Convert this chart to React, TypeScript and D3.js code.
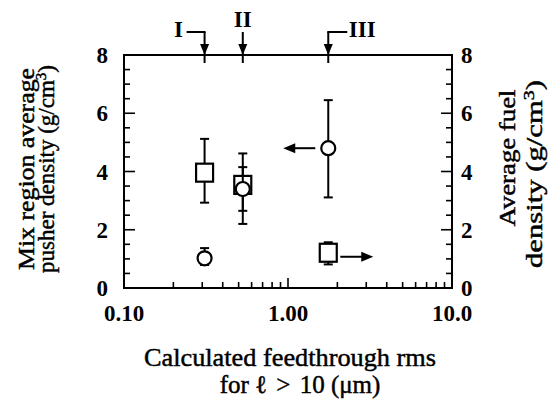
import React from "react";
import * as d3 from "d3";

const feedthroughRms = [0.31, 0.53, 1.76];
const shotLabels = ["I", "II", "III"];
const pusherDensity = [1.02, 3.4, 4.8];
const pusherLow = [0.79, 2.65, 3.11];
const pusherHigh = [1.37, 4.15, 6.45];
const fuelDensity = [3.96, 3.54, 1.21];
const fuelLow = [2.93, 2.2, 0.81];
const fuelHigh = [5.12, 4.62, 1.57];
const yTicks = [0, 2, 4, 6, 8];
const xTickLabels = ["0.10", "1.00", "10.0"];
const xTickValues = [0.1, 1, 10];

const W = 552, H = 401;
const L = 124, R = 452, T = 55, B = 288;
const FONT = "'Liberation Serif', 'Times New Roman', serif";

export default function App() {
  const x = d3.scaleLog().domain([0.1, 10]).range([L, R]);
  const y = d3.scaleLinear().domain([0, 8]).range([B, T]);
  const y2 = d3.scaleLinear().domain([0, 8]).range([B, T]);

  const minorX: number[] = [];
  for (const dec of [0.1, 1]) for (let k = 2; k <= 9; k++) minorX.push(dec * k);
  const yMinor = d3.range(0, 8.01, 0.5).filter((v) => v % 2 !== 0);

  const sw = 2;
  const cap = 4.5;

  const arrowHead = (tx: number, ty: number, dir: "down" | "left" | "right", len = 11, half = 4.5) => {
    let pts: [number, number][];
    if (dir === "down") pts = [[tx, ty], [tx - half, ty - len], [tx + half, ty - len]];
    else if (dir === "left") pts = [[tx, ty], [tx + len, ty - half], [tx + len, ty + half]];
    else pts = [[tx, ty], [tx - len, ty - half], [tx - len, ty + half]];
    return <polygon points={pts.map((p) => p.join(",")).join(" ")} fill="#000" />;
  };

  const i3 = 2;
  const cx3 = x(feedthroughRms[i3]);
  const tickFont = { fontFamily: FONT, fontSize: 23, fontWeight: "bold" as const };
  const titleFont = { fontFamily: FONT, fontSize: 23, stroke: "#000", strokeWidth: 0.45 };

  return (
    <svg width={W} height={H} style={{ position: "absolute", left: 0, top: 0, background: "#fff" }} fontFamily={FONT}>
      <rect x={0} y={0} width={W} height={H} fill="#fff" />
      {/* frame */}
      <rect x={L} y={T} width={R - L} height={B - T} fill="none" stroke="#000" strokeWidth={2} />

      {/* bottom ticks */}
      {xTickValues.map((v) => (
        <line key={"xM" + v} x1={x(v)} x2={x(v)} y1={B} y2={B - 10} stroke="#000" strokeWidth={1.6} />
      ))}
      {minorX.map((v) => (
        <line key={"xm" + v} x1={x(v)} x2={x(v)} y1={B} y2={B - 6} stroke="#000" strokeWidth={1.6} />
      ))}
      {xTickValues.map((v, i) => (
        <text key={"xl" + v} x={x(v)} y={321} textAnchor="middle" style={tickFont}>
          {xTickLabels[i]}
        </text>
      ))}

      {/* left & right ticks */}
      {yTicks.map((v) => (
        <g key={"yM" + v}>
          <line x1={L} x2={L + 11} y1={y(v)} y2={y(v)} stroke="#000" strokeWidth={1.6} />
          <line x1={R} x2={R - 11} y1={y2(v)} y2={y2(v)} stroke="#000" strokeWidth={1.6} />
          <text x={108} y={y(v) + 8} textAnchor="end" style={tickFont}>{v}</text>
          <text x={461} y={y2(v) + 8} textAnchor="start" style={tickFont}>{v}</text>
        </g>
      ))}
      {yMinor.map((v) => (
        <g key={"ym" + v}>
          <line x1={L} x2={L + 6} y1={y(v)} y2={y(v)} stroke="#000" strokeWidth={1.6} />
          <line x1={R} x2={R - 6} y1={y2(v)} y2={y2(v)} stroke="#000" strokeWidth={1.6} />
        </g>
      ))}

      {/* top markers I, II, III */}
      {feedthroughRms.map((v, i) => {
        const px = x(v);
        const bendY = 32;
        return (
          <g key={"top" + i}>
            <line x1={px} x2={px} y1={T + 8} y2={bendY} stroke="#000" strokeWidth={2} />
            {i === 0 && <line x1={px + 1} x2={px - 18} y1={bendY} y2={bendY} stroke="#000" strokeWidth={2} />}
            {i === 2 && <line x1={px - 1} x2={px + 19} y1={bendY} y2={bendY} stroke="#000" strokeWidth={2} />}
            {arrowHead(px, T, "down")}
            <text
              x={i === 0 ? px - 26 : i === 1 ? px : px + 34}
              y={i === 1 ? 27 : 37}
              textAnchor="middle"
              style={tickFont}
            >
              {shotLabels[i]}
            </text>
          </g>
        );
      })}

      {/* fuel density (squares, right axis) */}
      {feedthroughRms.map((v, i) => (
        <g key={"fe" + i}>
          <line x1={x(v)} x2={x(v)} y1={y2(fuelLow[i])} y2={y2(fuelHigh[i])} stroke="#000" strokeWidth={sw} />
          <line x1={x(v) - cap} x2={x(v) + cap} y1={y2(fuelLow[i])} y2={y2(fuelLow[i])} stroke="#000" strokeWidth={sw} />
          <line x1={x(v) - cap} x2={x(v) + cap} y1={y2(fuelHigh[i])} y2={y2(fuelHigh[i])} stroke="#000" strokeWidth={sw} />
        </g>
      ))}
      {feedthroughRms.map((v, i) => (
        <rect key={"fs" + i} x={x(v) - 8.5} y={y2(fuelDensity[i]) - 9} width={17} height={18} fill="#fff" stroke="#000" strokeWidth={2.2} />
      ))}

      {/* pusher density (circles, left axis) */}
      {feedthroughRms.map((v, i) => (
        <g key={"pe" + i}>
          <line x1={x(v)} x2={x(v)} y1={y(pusherLow[i])} y2={y(pusherHigh[i])} stroke="#000" strokeWidth={sw} />
          <line x1={x(v) - cap} x2={x(v) + cap} y1={y(pusherLow[i])} y2={y(pusherLow[i])} stroke="#000" strokeWidth={sw} />
          <line x1={x(v) - cap} x2={x(v) + cap} y1={y(pusherHigh[i])} y2={y(pusherHigh[i])} stroke="#000" strokeWidth={sw} />
        </g>
      ))}
      {feedthroughRms.map((v, i) => (
        <circle key={"pc" + i} cx={x(v)} cy={y(pusherDensity[i])} r={7} fill="#fff" stroke="#000" strokeWidth={2.2} />
      ))}

      {/* axis pointers */}
      <line x1={cx3 - 13} x2={cx3 - 40} y1={y(pusherDensity[i3])} y2={y(pusherDensity[i3])} stroke="#000" strokeWidth={2} />
      {arrowHead(cx3 - 45, y(pusherDensity[i3]), "left", 12, 5)}
      <line x1={cx3 + 12} x2={cx3 + 38} y1={y2(fuelDensity[i3]) + 4} y2={y2(fuelDensity[i3]) + 4} stroke="#000" strokeWidth={2} />
      {arrowHead(cx3 + 45, y2(fuelDensity[i3]) + 4, "right", 12, 5)}

      {/* axis titles */}
      <text x={(L + R) / 2 + 2} y={366} textAnchor="middle" textLength={292} lengthAdjust="spacingAndGlyphs" style={{ ...titleFont, fontSize: 25 }}>
        Calculated feedthrough rms
      </text>
      <text x={300} y={393} textAnchor="middle" style={{ ...titleFont, fontSize: 25 }}>
        {"for ℓ "}
        <tspan dx={3}>{"> "}</tspan>
        <tspan dx={3}>{"10 (μm)"}</tspan>
      </text>

      <g transform={`translate(34,169) rotate(-90)`}>
        <text x={0} y={0} textAnchor="middle" textLength={202} lengthAdjust="spacingAndGlyphs" style={titleFont}>
          Mix region average
        </text>
      </g>
      <g transform={`translate(54,169) rotate(-90)`}>
        <text x={0} y={0} textAnchor="middle" textLength={208} lengthAdjust="spacingAndGlyphs" style={titleFont}>
          pusher density (g/cm<tspan dy={-8} fontSize={15}>3</tspan><tspan dy={8}>)</tspan>
        </text>
      </g>
      <g transform={`translate(515,158) rotate(-90)`}>
        <text x={0} y={0} textAnchor="middle" textLength={137} lengthAdjust="spacingAndGlyphs" style={titleFont}>
          Average fuel
        </text>
      </g>
      <g transform={`translate(542,174) rotate(-90)`}>
        <text x={0} y={0} textAnchor="middle" textLength={188} lengthAdjust="spacingAndGlyphs" style={titleFont}>
          density (g/cm<tspan dy={-8} fontSize={15}>3</tspan><tspan dy={8}>)</tspan>
        </text>
      </g>
    </svg>
  );
}
